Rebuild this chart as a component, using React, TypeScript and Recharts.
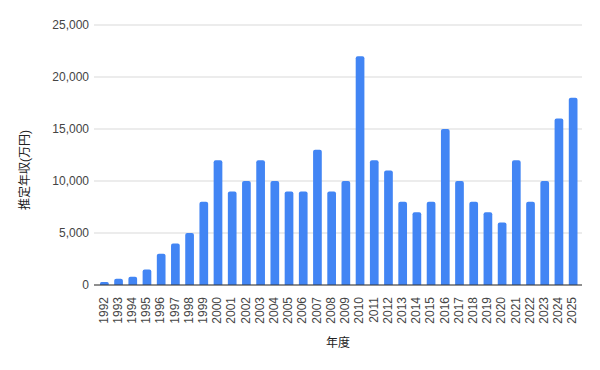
import React from 'react';
import { BarChart, Bar, XAxis, YAxis, CartesianGrid } from 'recharts';

const years: string[] = [
  '1992', '1993', '1994', '1995', '1996', '1997', '1998', '1999', '2000', '2001',
  '2002', '2003', '2004', '2005', '2006', '2007', '2008', '2009', '2010', '2011',
  '2012', '2013', '2014', '2015', '2016', '2017', '2018', '2019', '2020', '2021',
  '2022', '2023', '2024', '2025',
];

const income: number[] = [
  300, 600, 800, 1500, 3000, 4000, 5000, 8000, 12000, 9000,
  10000, 12000, 10000, 9000, 9000, 13000, 9000, 10000, 22000, 12000,
  11000, 8000, 7000, 8000, 15000, 10000, 8000, 7000, 6000, 12000,
  8000, 10000, 16000, 18000,
];

const yTicks: number[] = [0, 5000, 10000, 15000, 20000, 25000];

const xTitle = '年度';
const yTitle = '推定年収(万円)';

const data = years.map((y, i) => ({ year: y, value: income[i] }));

const FONT = 'Arial, "Liberation Sans", "Noto Sans CJK JP", sans-serif';

const XTick = (props: any) => {
  const { x, y, payload } = props;
  return (
    <text
      transform={`translate(${x - 0.5},${y}) rotate(-90)`}
      textAnchor="end"
      dominantBaseline="central"
      fontSize={12}
      fill="#444"
      fontFamily={FONT}
    >
      {payload.value}
    </text>
  );
};

const YTitle = (props: any) => {
  const vb = props.viewBox || { x: 0, y: 0, width: 0, height: 0 };
  const cx = 25;
  const cy = vb.y + vb.height / 2 + 15;
  return (
    <text
      transform={`translate(${cx},${cy}) rotate(-90)`}
      textAnchor="middle"
      dominantBaseline="central"
      fontSize={12}
      fill="#222"
      fontFamily={FONT}
    >
      {yTitle}
    </text>
  );
};

const XTitle = (props: any) => {
  const vb = props.viewBox || { x: 0, y: 0, width: 0, height: 0 };
  return (
    <text
      x={vb.x + vb.width / 2}
      y={343}
      textAnchor="middle"
      dominantBaseline="central"
      fontSize={12}
      fill="#222"
      fontFamily={FONT}
    >
      {xTitle}
    </text>
  );
};

export default function App() {
  return (
    <div style={{ position: 'absolute', left: 0, top: 0, width: 600, height: 370, background: '#fff' }}>
      <BarChart
        width={600}
        height={370}
        data={data}
        margin={{ top: 25, right: 18, bottom: 0, left: 0 }}
      >
        <CartesianGrid vertical={false} stroke="#d9d9d9" strokeWidth={1} />
        <XAxis
          dataKey="year"
          interval={0}
          height={85}
          padding={{ left: 3, right: 2 }}
          tickLine={false}
          axisLine={{ stroke: '#333', strokeWidth: 1 }}
          tick={<XTick />}
          tickMargin={6}
          label={<XTitle />}
        />
        <YAxis
          width={94}
          domain={[0, 25000]}
          ticks={yTicks}
          interval={0}
          tickLine={false}
          axisLine={false}
          tickSize={0}
          tickMargin={5}
          tick={{ fontSize: 12, fill: '#444', fontFamily: FONT }}
          tickFormatter={(v: number) => v.toLocaleString('en-US')}
          label={<YTitle />}
        />
        <Bar
          dataKey="value"
          fill="#4285F4"
          barSize={8.7}
          radius={[2, 2, 0, 0]}
          isAnimationActive={false}
        />
      </BarChart>
    </div>
  );
}
